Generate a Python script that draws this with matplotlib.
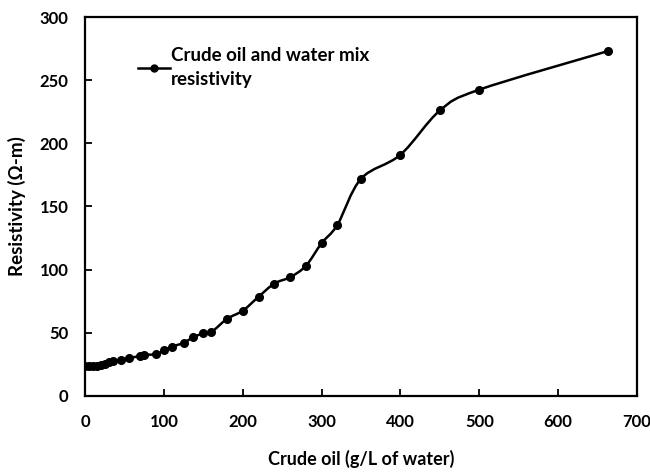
import numpy as np
import matplotlib.pyplot as plt
from matplotlib.path import Path
from matplotlib.patches import PathPatch
from matplotlib.lines import Line2D

# crude oil concentration (g/L of water) and measured resistivity (ohm-m)
oil = [0, 5, 10, 15, 20, 25, 30, 35, 45, 55, 70, 75, 90, 100, 110, 125, 137,
       150, 160, 180, 200, 220, 240, 260, 280, 300, 320, 350, 400, 450, 500, 663]
resist = [24, 23.5, 23.5, 24, 24.5, 25.5, 27, 28, 28.5, 30, 31.5, 32.5, 33, 36,
          39, 42, 46.5, 49.5, 50.5, 61, 67.5, 78.5, 89, 94, 103, 121, 135.5,
          172, 191, 226, 242.5, 273]
xticks = [0, 100, 200, 300, 400, 500, 600, 700]
yticks = [0, 50, 100, 150, 200, 250, 300]

plt.rcParams['font.family'] = ['Lato', 'DejaVu Sans']
plt.rcParams['font.weight'] = 'bold'

fig = plt.figure(figsize=(6.5, 4.73), dpi=100)
ax = fig.add_axes([0.131, 0.163, 0.849, 0.801])

# excel style smoothed line: cubic bezier through the points
x = np.array(oil, dtype=float)
y = np.array(resist, dtype=float)
verts = [(x[0], y[0])]
codes = [Path.MOVETO]
n = len(x)
for i in range(n - 1):
    p0 = (x[i - 1], y[i - 1]) if i > 0 else (x[i], y[i])
    p3 = (x[i + 2], y[i + 2]) if i + 2 < n else (x[i + 1], y[i + 1])
    c1 = (x[i] + (x[i + 1] - p0[0]) / 6, y[i] + (y[i + 1] - p0[1]) / 6)
    c2 = (x[i + 1] - (p3[0] - x[i]) / 6, y[i + 1] - (p3[1] - y[i]) / 6)
    verts += [c1, c2, (x[i + 1], y[i + 1])]
    codes += [Path.CURVE4] * 3
ax.add_patch(PathPatch(Path(verts, codes), fill=False, edgecolor='black', lw=1.8))
ax.plot(oil, resist, linestyle='none', marker='o', color='black', markersize=5.5)

ax.set_xlim(0, 700)
ax.set_ylim(0, 300)
ax.set_xticks(xticks)
ax.set_yticks(yticks)
ax.tick_params(direction='in', length=5, width=1.3, labelsize=12)
ax.tick_params(axis='x', pad=13)
ax.tick_params(axis='y', pad=12)
for s in ax.spines.values():
    s.set_linewidth(1.6)

ax.set_xlabel('Crude oil (g/L of water)', fontsize=13, fontweight='bold', labelpad=14)
ax.set_ylabel('Resistivity (\u03a9-m)', fontsize=13.5, fontweight='bold', labelpad=10)

handle = Line2D([], [], color='black', lw=1.8, marker='o', markersize=5)
leg = ax.legend([handle], ['Crude oil and water mix\nresistivity'], loc='upper left',
                bbox_to_anchor=(0.083, 0.94), frameon=False, fontsize=13.5,
                handlelength=1.7, handletextpad=0.05, borderaxespad=0)
for t in leg.get_texts():
    t.set_linespacing(1.5)

fig.savefig('out.png', dpi=100)
